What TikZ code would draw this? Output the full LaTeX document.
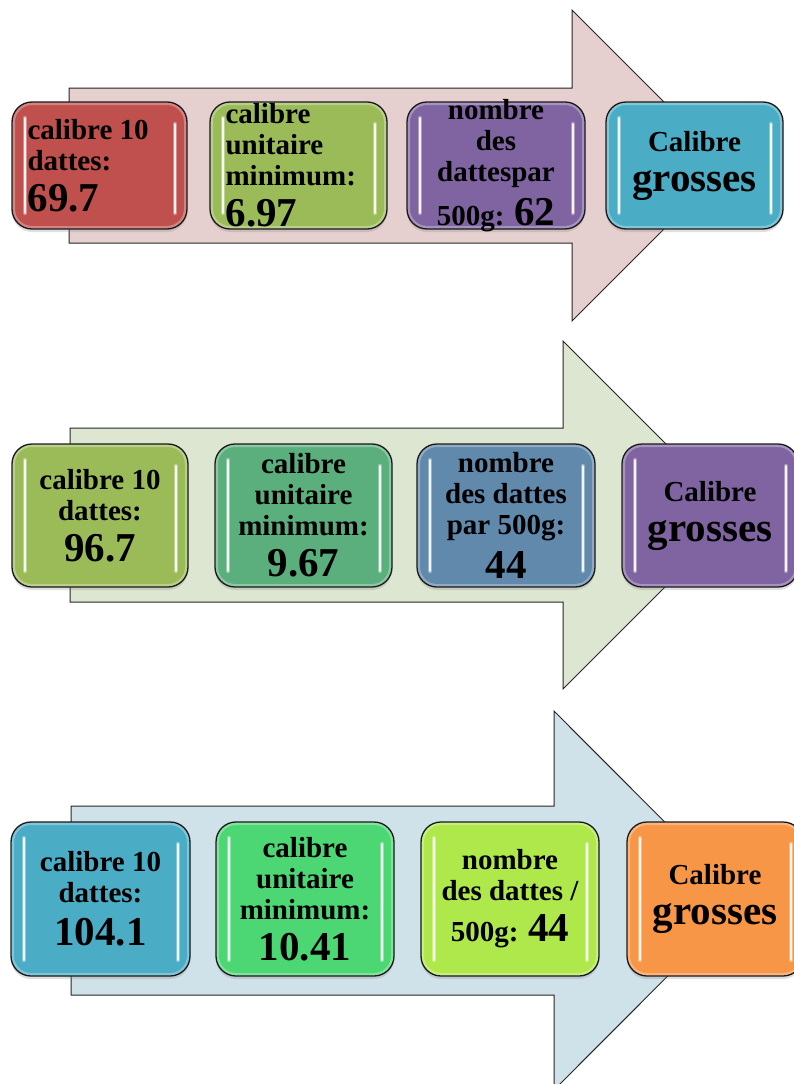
\documentclass[tikz,border=0pt]{standalone}
\usepackage{fontspec}
\setmainfont{Liberation Serif}
\usetikzlibrary{shadows}
\definecolor{rosebg}{HTML}{E6CFCF}
\definecolor{olivebg}{HTML}{DDE6D1}
\definecolor{bluebg}{HTML}{D0E2E9}
\definecolor{brick}{HTML}{C0504D}
\definecolor{olive}{HTML}{9BBB59}
\definecolor{plum}{HTML}{8064A2}
\definecolor{aqua}{HTML}{4BACC6}
\definecolor{jade}{HTML}{5AAF7C}
\definecolor{steel}{HTML}{6089AC}
\definecolor{mint}{HTML}{4CD774}
\definecolor{lime}{HTML}{AEE84B}
\definecolor{tangerine}{HTML}{F79646}
\newcommand\bignum[1]{{\fontsize{41}{41}\selectfont #1}}
\tikzset{
  flow/.style={draw=black!85,line width=1pt},
  gleam/.style={white,line cap=round},
  box/.style={rectangle,rounded corners=20pt,draw=black!90,line width=1.3pt,
    drop shadow={shadow xshift=0pt,shadow yshift=-3pt,opacity=.25},
    path picture={
      \draw[white,opacity=.3,line width=6pt,rounded corners=20pt]
        (path picture bounding box.north west) rectangle (path picture bounding box.south east);
      \foreach \w/\o in {4.5pt/.35,1.8pt/.9}{
        \draw[gleam,opacity=\o,line width=\w]
          ([xshift=13pt,yshift=-16pt]path picture bounding box.north west)
          -- ([xshift=13pt,yshift=16pt]path picture bounding box.south west);
        \draw[gleam,opacity=\o,line width=\w]
          ([xshift=-12pt,yshift=-22pt]path picture bounding box.north east)
          -- ([xshift=-12pt,yshift=16pt]path picture bounding box.south east);
      }
    }},
  rowone/.style={box,minimum height=127pt},
  rowtwo/.style={box,minimum height=143pt},
  rowthree/.style={box,minimum height=154pt},
  txt/.style={font=\fontsize{29}{31}\selectfont\bfseries,inner sep=0pt,align=center}
}
\begin{document}
\begin{tikzpicture}[x=1pt,y=-1pt]
\useasboundingbox (0,0) rectangle (794,1084);
\clip (0,0) rectangle (794,1084);
\fill[white] (0,0) rectangle (794,1084);

\draw[flow,fill=rosebg] (69,88) -- (572,88) -- (572,10) -- (727.5,165.5)
  -- (572,321) -- (572,243) -- (69,243) -- cycle;
\node[rowone,fill=brick,minimum width=175pt] (r1a) at (99.5,165.5) {};
\node[rowone,fill=olive,minimum width=177pt] (r1b) at (298.5,165.5) {};
\node[rowone,fill=plum,minimum width=178pt] (r1c) at (496,165.5) {};
\node[rowone,fill=aqua,minimum width=177pt] (r1d) at (694.5,165.5) {};
\node[txt,align=left,anchor=west] (t1a) at ([xshift=16pt]r1a.west)
  {calibre 10\\dattes:\\[10pt]\bignum{69.7}};
\node[txt,align=left,anchor=west] (t1b) at ([xshift=16pt]r1b.west)
  {calibre\\unitaire\\minimum:\\[10pt]\bignum{6.97}};
\node[txt] (t1c) at (r1c) {nombre\\des\\dattespar\\[9pt]500g: \bignum{62}};
\node[txt] (t1d) at (r1d) {Calibre\\[9pt]\bignum{grosses}};

\draw[flow,fill=olivebg] (70,428) -- (563,428) -- (563,341) -- (737,515)
  -- (563,689) -- (563,602) -- (70,602) -- cycle;
\node[rowtwo,fill=olive,minimum width=176pt] (r2a) at (100,515.5) {};
\node[rowtwo,fill=jade,minimum width=177pt] (r2b) at (303.5,515.5) {};
\node[rowtwo,fill=steel,minimum width=178pt] (r2c) at (506,515.5) {};
\node[rowtwo,fill=plum,minimum width=176pt] (r2d) at (710,515.5) {};
\node[txt] (t2a) at (r2a) {calibre 10\\dattes:\\[10pt]\bignum{96.7}};
\node[txt] (t2b) at (r2b) {calibre\\unitaire\\minimum:\\[10pt]\bignum{9.67}};
\node[txt] (t2c) at (r2c) {nombre\\des dattes\\par 500g:\\[10pt]\bignum{44}};
\node[txt] (t2d) at (r2d) {Calibre\\[9pt]\bignum{grosses}};

\draw[flow,fill=bluebg] (71,806) -- (554,806) -- (554,711) -- (743,900.5)
  -- (554,1090) -- (554,995) -- (71,995) -- cycle;
\node[rowthree,fill=aqua,minimum width=179pt] (r3a) at (100.5,899) {};
\node[rowthree,fill=mint,minimum width=178pt] (r3b) at (305,899) {};
\node[rowthree,fill=lime,minimum width=178pt] (r3c) at (510,899) {};
\node[rowthree,fill=tangerine,minimum width=176pt] (r3d) at (715,899) {};
\node[txt] (t3a) at (r3a) {calibre 10\\dattes:\\[12pt]\bignum{104.1}};
\node[txt] (t3b) at (r3b) {calibre\\unitaire\\minimum:\\[10pt]\bignum{10.41}};
\node[txt] (t3c) at (r3c) {nombre\\des dattes /\\[10pt]500g: \bignum{44}};
\node[txt] (t3d) at (r3d) {Calibre\\[9pt]\bignum{grosses}};
\end{tikzpicture}
\end{document}
